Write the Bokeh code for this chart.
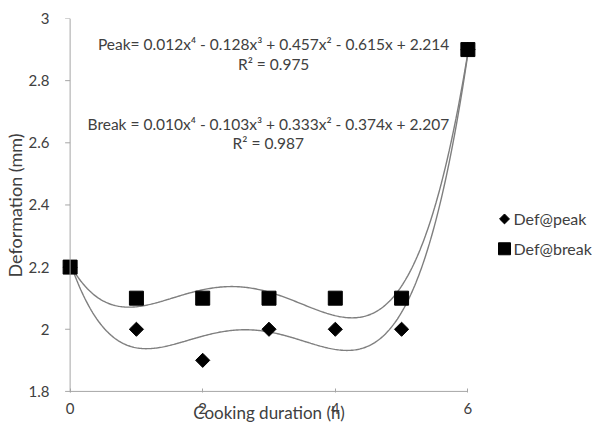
import numpy as np
from bokeh.plotting import figure
from bokeh.layouts import row
from bokeh.models import Range1d, FixedTicker, CustomJSTickFormatter, Span, Label
from bokeh.core.properties import value
from bokeh.embed import file_html
from bokeh.resources import INLINE

# ---- data ----
hours = [0, 1, 2, 3, 4, 5, 6]
def_peak = [2.2, 2.0, 1.9, 2.0, 2.0, 2.0, 2.9]
def_break = [2.2, 2.1, 2.1, 2.1, 2.1, 2.1, 2.9]
x_ticks = [0, 2, 4, 6]
y_ticks = [1.8, 2.0, 2.2, 2.4, 2.6, 2.8, 3.0]
series_names = ["Def@peak", "Def@break"]
x_title = "Cooking duration (h)"
y_title = "Deformation (mm)"
eq_peak = "Peak= 0.012x\u2074 - 0.128x\u00b3 + 0.457x\u00b2 - 0.615x + 2.214"
r2_peak = "R\u00b2 = 0.975"
eq_break = "Break = 0.010x\u2074 - 0.103x\u00b3 + 0.333x\u00b2 - 0.374x + 2.207"
r2_break = "R\u00b2 = 0.987"

FONT = "Lato"
TXT = "#404040"
AX = "#a6a6a6"

p = figure(width=476, height=425, output_backend="svg", toolbar_location=None,
           x_range=Range1d(-0.13, 6.13), y_range=Range1d(1.7965, 3.0),
           min_border_left=61, min_border_right=0, min_border_top=18, min_border_bottom=32)
p.outline_line_color = None
p.grid.visible = False
p.background_fill_color = "white"

# x axis
xa = p.xaxis[0]
xa.ticker = FixedTicker(ticks=x_ticks)
xa.axis_line_color = None
xa.major_tick_line_color = AX
xa.major_tick_in = 4
xa.major_tick_out = 0
xa.minor_tick_line_color = None
xa.major_label_standoff = 10
xa.major_label_text_font = FONT
xa.major_label_text_font_size = "15px"
xa.major_label_text_color = TXT
xa.axis_label = x_title
xa.axis_label_text_font = FONT
xa.axis_label_text_font_size = "17px"
xa.axis_label_text_font_style = "normal"
xa.axis_label_text_color = TXT
xa.axis_label_standoff = -15

# y axis
ya = p.yaxis[0]
ya.ticker = FixedTicker(ticks=y_ticks)
ya.formatter = CustomJSTickFormatter(code="return String(Math.round(tick*10)/10)")
ya.axis_line_color = None
ya.major_tick_line_color = None
ya.minor_tick_line_color = None
ya.major_label_standoff = 6
ya.major_label_text_font = FONT
ya.major_label_text_font_size = "15px"
ya.major_label_text_color = TXT
ya.axis_label = y_title
ya.axis_label_text_font = FONT
ya.axis_label_text_font_size = "18px"
ya.axis_label_text_font_style = "normal"
ya.axis_label_text_color = TXT
ya.axis_label_standoff = 0

# axis lines and y ticks
p.add_layout(Span(location=x_ticks[0], dimension="height", line_color=AX, line_width=1))
p.segment(x0=[x_ticks[0]], x1=[x_ticks[-1]], y0=[y_ticks[0]], y1=[y_ticks[0]],
          line_color=AX, line_width=1)
p.ray(x=[x_ticks[0]] * len(y_ticks), y=y_ticks, length=5, length_units="screen",
      angle=np.pi, line_color=AX, line_width=1)

# trendlines (4th-order polynomial fits, as in the chart)
xs = np.linspace(hours[0], hours[-1], 300)
cp = np.polyfit(hours, def_peak, 4)
cb = np.polyfit(hours, def_break, 4)
p.line(xs, np.polyval(cp, xs), line_color="#7f7f7f", line_width=1.4)
p.line(xs, np.polyval(cb, xs), line_color="#7f7f7f", line_width=1.4)

# markers
p.scatter(hours, def_peak, marker="square", angle=np.pi / 4, size=10,
          fill_color="black", line_color="black")
p.scatter(hours, def_break, marker="square", size=14,
          fill_color="black", line_color="black")

# equations
for txt, xx, yy in [(eq_peak, 3.07, 2.919), (r2_peak, 3.07, 2.855),
                    (eq_break, 2.99, 2.662), (r2_break, 2.99, 2.599)]:
    p.add_layout(Label(x=xx, y=yy, text=txt, text_align="center", text_baseline="middle",
                       text_font=FONT, text_font_size="15.5px", text_color=TXT))

# legend panel (shares the y scale of the chart)
lg = figure(width=116, height=425, output_backend="svg", toolbar_location=None,
            x_range=Range1d(0, 116), y_range=p.y_range,
            x_axis_location=None, y_axis_location=None,
            min_border_left=0, min_border_right=0, min_border_top=18, min_border_bottom=32)
lg.outline_line_color = None
lg.grid.visible = False
ly = [2.355, 2.259]
lg.scatter([28], [ly[0]], marker="square", angle=np.pi / 4, size=7,
           fill_color="black", line_color="black")
lg.scatter([28], [ly[1]], marker="square", size=12, fill_color="black", line_color="black")
lg.text(x=[37, 37], y=ly, text=series_names, text_align="left", text_baseline="middle",
        text_font=value(FONT), text_font_size="16px", text_color=TXT)

layout = row(p, lg, spacing=0)
open("out.html", "w").write(file_html(layout, INLINE))
